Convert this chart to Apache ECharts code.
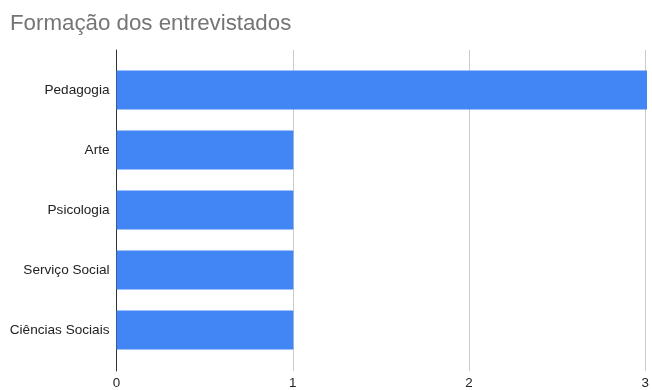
<!DOCTYPE html>
<html><head><meta charset="utf-8">
<script src="https://cdn.jsdelivr.net/npm/echarts@6/dist/echarts.min.js"></script>
<style>html,body{margin:0;padding:0;background:#fff}#c{width:652px;height:390px}</style>
</head><body><div id="c"></div>
<script>
const categories = ["Pedagogia", "Arte", "Psicologia", "Serviço Social", "Ciências Sociais"];
const values = [3, 1, 1, 1, 1];
const xTicks = [0, 1, 2, 3];

const FONT = '"Liberation Sans", Arial, sans-serif';
const chart = echarts.init(document.getElementById('c'), null, {renderer: 'canvas'});
chart.setOption({
  animation: false,
  title: {text: 'Formação dos entrevistados', left: 5, top: 8,
    textStyle: {fontFamily: FONT, fontSize: 22.3, fontWeight: 'normal', color: '#757575'}},
  grid: [
    {left: 116.5, right: 5, top: 50, bottom: 19},
    {left: 116.5, right: 5, top: 60, bottom: 30}
  ],
  xAxis: [
    {type: 'value', gridIndex: 0, min: xTicks[0], max: xTicks[xTicks.length-1], interval: 1,
     axisLine: {show: false}, axisTick: {show: false},
     splitLine: {lineStyle: {color: '#cccccc', width: 1}},
     axisLabel: {color: '#222', fontSize: 13.4, fontFamily: FONT, margin: 6}},
    {type: 'value', gridIndex: 1, min: xTicks[0], max: xTicks[xTicks.length-1], interval: 1, show: false}
  ],
  yAxis: [
    {type: 'category', gridIndex: 0, data: [''], axisLabel: {show: false}, axisTick: {show: false},
     axisLine: {lineStyle: {color: '#333', width: 1}}},
    {type: 'category', gridIndex: 1, data: categories, inverse: true,
     axisLine: {show: false}, axisTick: {show: false},
     axisLabel: {color: '#222', fontSize: 13.6, fontFamily: FONT, margin: 7}}
  ],
  series: [{
    type: 'bar', xAxisIndex: 1, yAxisIndex: 1, data: values,
    barWidth: 39, itemStyle: {color: '#4285F4'}
  }]
});
</script></body></html>
